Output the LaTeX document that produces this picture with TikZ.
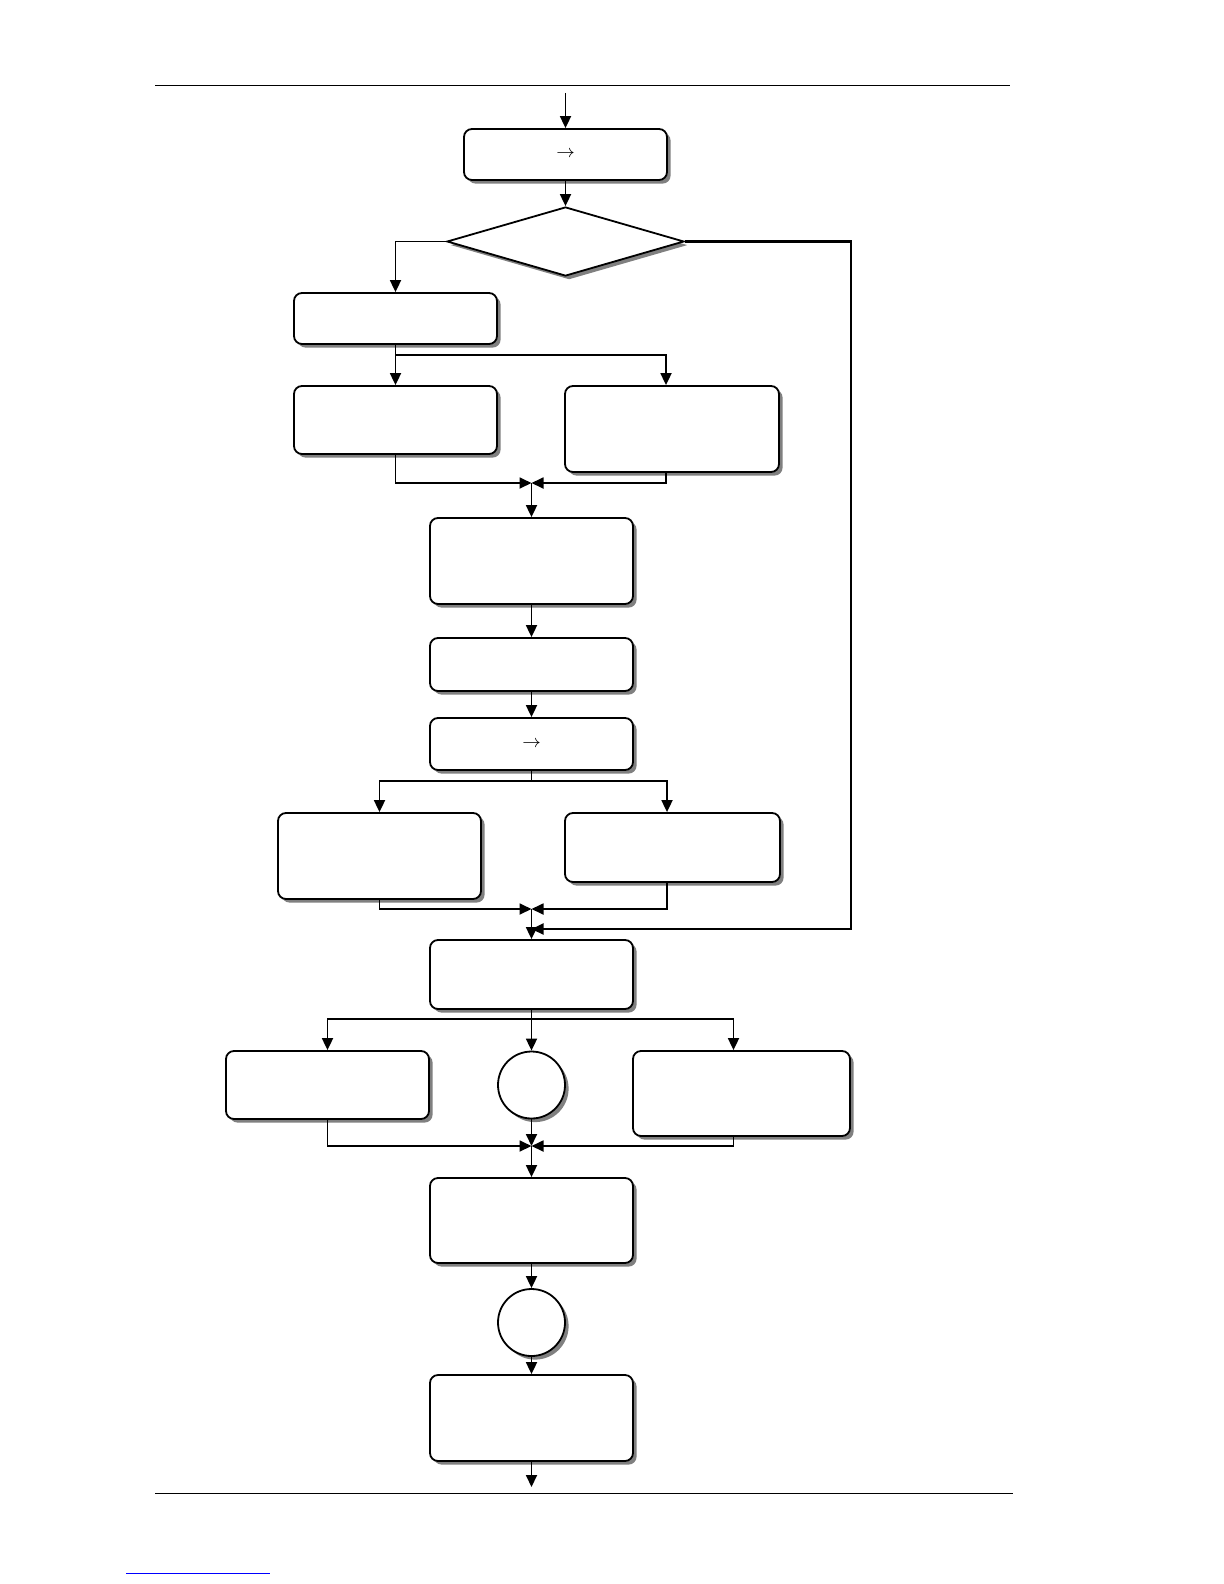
\documentclass[tikz,border=0pt]{standalone}
\usetikzlibrary{arrows.meta,shapes.geometric,shadows}
\begin{document}
\begin{tikzpicture}[x=0.5pt,y=-0.5pt,>={Triangle[length=6pt,width=5.5pt]},line width=0.9pt,
  sh/.style={drop shadow={shadow xshift=1.8pt,shadow yshift=-1.8pt,fill=black!50,opacity=1}},
  b/.style={draw,fill=white,rounded corners=4pt,minimum width=101.5pt,inner sep=0pt,sh,font=\small},
  d/.style={draw,fill=white,diamond,aspect=3.4,minimum width=118.5pt,minimum height=34.5pt,inner sep=0pt,sh},
  c/.style={draw,fill=white,circle,minimum size=33.5pt,inner sep=0pt,sh}]
\useasboundingbox (0,0) rectangle (1224,1584);
% page rules
\draw[line width=0.5pt] (155,86)--(1010,86);
\draw[line width=0.5pt] (155,1493)--(1013,1493);
\draw[blue,line width=0.5pt] (126,1573)--(270,1573);
% nodes
\node[b,minimum height=25.5pt] (entry) at (565.5,154.5) {$\rightarrow$};
\node[d] (check) at (565.5,241.5) {};
\node[b,minimum height=25.5pt] (prep) at (395.5,318.5) {};
\node[b,minimum height=34pt] (pathA) at (395.5,420) {};
\node[b,minimum width=107pt,minimum height=43pt] (pathB) at (672,429) {};
\node[b,minimum height=43pt] (step5) at (531.5,561) {};
\node[b,minimum height=26.5pt] (step6) at (531.5,664.5) {};
\node[b,minimum height=26pt] (route) at (531.5,744) {$\rightarrow$};
\node[b,minimum height=43pt] (caseL) at (379.5,856) {};
\node[b,minimum width=107.5pt,minimum height=34.5pt] (caseR) at (672.5,847.5) {};
\node[b,minimum height=34.5pt] (merge) at (531.5,974.5) {};
\node[b,minimum height=34pt] (optL) at (327.5,1085) {};
\node[c] (mid) at (531.5,1085) {};
\node[b,minimum width=108.5pt,minimum height=42.5pt] (optR) at (741.5,1093.5) {};
\node[b,minimum height=42.5pt] (collect) at (531.5,1220.5) {};
\node[c] (mid2) at (531.5,1322.5) {};
\node[b,minimum height=43pt] (final) at (531.5,1418) {};
% junction points
\coordinate (in) at (565.5,93);
\coordinate (s1) at (395.5,355);
\coordinate (j1) at (531.5,483);
\coordinate (s2) at (531.5,781);
\coordinate (j2) at (531.5,909);
\coordinate (loopc) at (851,929);
\coordinate (loopin) at (531.5,929);
\coordinate (s3) at (531.5,1019);
\coordinate (j3) at (531.5,1146);
\coordinate (out) at (531.5,1487);
% connectors
\draw[->] (in)--(entry);
\draw[->] (entry)--(check);
\draw[->] (check.west)-|(prep.north);
\draw[->,line width=1.1pt] (check.east)-|(loopc)--(loopin);
\draw (prep.south)--(s1);
\draw[->] (s1)--(pathA);
\draw[->] (s1)-|([xshift=-3pt]pathB.north);
\draw[->] (pathA.south)|-(j1);
\draw[->] ([xshift=-3pt]pathB.south)|-(j1);
\draw[->] (j1)--(step5);
\draw[->] (step5)--(step6);
\draw[->] (step6)--(route);
\draw (route.south)--(s2);
\draw[->] (s2)-|(caseL.north);
\draw[->] (s2)-|([xshift=-2.75pt]caseR.north);
\draw[->] (caseL.south)|-(j2);
\draw[->] ([xshift=-2.75pt]caseR.south)|-(j2);
\draw[->] (j2)--(merge);
\draw[->] (merge)--(mid);
\draw[->] (s3)-|(optL.north);
\draw[->] (s3)-|([xshift=-4pt]optR.north);
\draw[->] (optL.south)|-(j3);
\draw[->] ([xshift=-4pt]optR.south)|-(j3);
\draw[->] (mid)--(j3);
\draw[->] (j3)--(collect);
\draw[->] (collect)--(mid2);
\draw[->] (mid2)--(final);
\draw[->] (final)--(out);
\end{tikzpicture}
\end{document}
